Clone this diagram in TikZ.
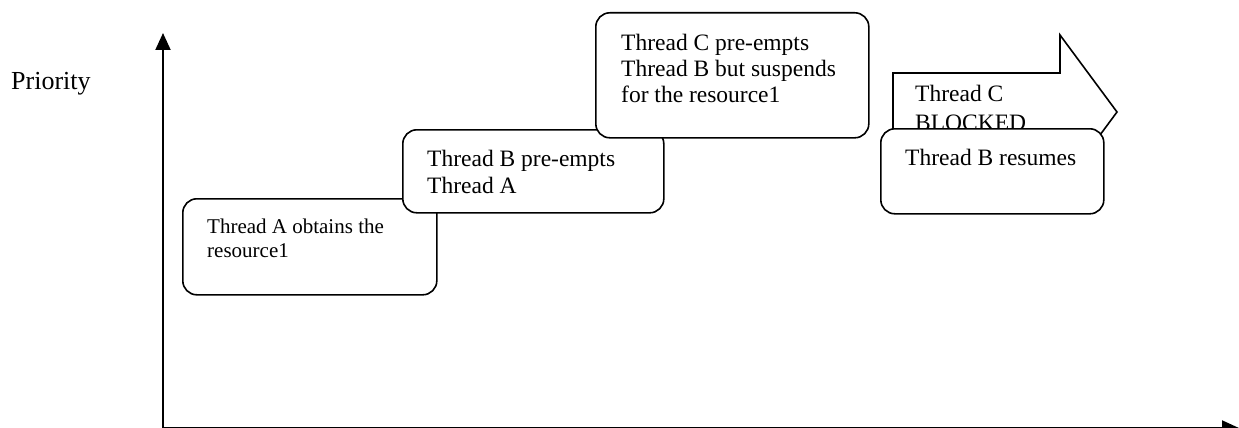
\documentclass[tikz,border=0pt]{standalone}
\usepackage{fontspec}
\setmainfont{Liberation Serif}
\usetikzlibrary{arrows.meta}
\tikzset{
  tbox/.style={draw, line width=1.6pt, rounded corners=14pt, fill=white, inner sep=0pt, anchor=north west},
  txt/.style={inner sep=0pt, anchor=base west, font=\fontsize{23.5}{26}\selectfont},
  smalltxt/.style={inner sep=0pt, anchor=base west, font=\fontsize{21}{24}\selectfont},
  axis/.style={line width=2pt, -{Triangle[length=17pt,width=15pt]}}
}
\begin{document}
\begin{tikzpicture}[x=1pt,y=-1pt]
\useasboundingbox (0,0) rectangle (1239,428);
% axes
\coordinate (origin) at (163,428);
\coordinate (ytop) at (163,33);
\coordinate (xend) at (1239,428);
\draw[axis] (origin) -- (ytop);
\draw[axis] (origin) -- (xend);
\node[txt, font=\fontsize{26}{28}\selectfont] (prio) at (11,89) {Priority};
% box A
\node[tbox, minimum width=254pt, minimum height=96pt] (boxA) at (182,198) {};
\node[smalltxt] (tA1) at (207,233) {Thread A obtains the};
\node[smalltxt] (tA2) at (207,257) {resource1};
% box B
\node[tbox, minimum width=261pt, minimum height=83pt] (boxB) at (402,129) {};
\node[txt] (tB1) at (427,166) {Thread B pre-empts};
\node[txt] (tB2) at (427,193) {Thread A};
% box C
\node[tbox, minimum width=273pt, minimum height=125pt] (boxC) at (595,12) {};
\node[txt] (tC1) at (621,51) {Thread C pre-empts};
\node[txt] (tC2) at (621,77) {Thread B but suspends};
\node[txt] (tC3) at (621,102) {for the resource1};
% block arrow
\coordinate (ar1) at (893,73);
\coordinate (ar2) at (1060,73);
\coordinate (ar3) at (1060,35);
\coordinate (ar4) at (1117,112);
\coordinate (ar5) at (1060,189);
\coordinate (ar6) at (1060,151);
\coordinate (ar7) at (893,151);
\draw[line width=1.6pt, line join=miter, fill=white] (ar1) -- (ar2) -- (ar3) -- (ar4) -- (ar5) -- (ar6) -- (ar7) -- cycle;
\node[txt] (tArr1) at (915,101) {Thread C};
\node[txt] (tArr2) at (915,130) {BLOCKED};
% box D
\node[tbox, minimum width=223pt, minimum height=85pt] (boxD) at (880,128) {};
\node[txt] (tD1) at (905,165) {Thread B resumes};
\end{tikzpicture}
\end{document}
